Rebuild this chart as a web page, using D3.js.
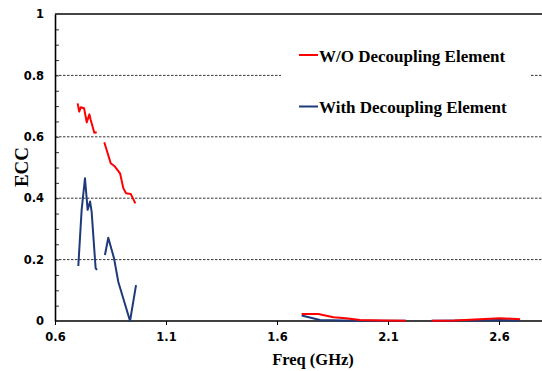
<!DOCTYPE html>
<html>
<head>
  <script src="https://cdn.jsdelivr.net/npm/d3@7"></script>
  <style>
    body { margin: 0; background: #fff; }
    .tick text { font-family: "DejaVu Sans", sans-serif; font-weight: bold; font-size: 11.5px; }
    .grid line { stroke: #000; stroke-width: 0.8; stroke-dasharray: 2.5,1.5; }
    .title { font-family: "Liberation Serif", serif; font-weight: bold; font-size: 16.5px; }
    .legend { font-family: "Liberation Serif", serif; font-weight: bold; font-size: 17px; }
  </style>
</head>
<body>
  <svg width="542" height="371"></svg>
  <script>
    // ECC vs frequency, two series, each with gaps (null = break)
    var freqWo = [0.702, 0.709, 0.716, 0.731, 0.743, 0.755, 0.761, 0.777, 0.788, null,
                  0.822, 0.851, 0.870, 0.893, 0.908, 0.920, 0.941, 0.962, null,
                  1.711, 1.786, 1.854, 1.910, 1.974, 2.080, 2.180, null,
                  2.297, 2.400, 2.514, 2.604, 2.695];
    var eccWo = [0.709, 0.682, 0.696, 0.693, 0.647, 0.673, 0.655, 0.613, 0.615, null,
                 0.582, 0.514, 0.503, 0.481, 0.432, 0.416, 0.414, 0.383, null,
                 0.023, 0.023, 0.012, 0.009, 0.003, 0.002, 0.001, null,
                 0.001, 0.002, 0.006, 0.009, 0.006];

    var freqWith = [0.705, 0.720, 0.735, 0.747, 0.758, 0.765, 0.783, 0.789, null,
                    0.825, 0.840, 0.866, 0.885, 0.938, 0.965, null,
                    1.711, 1.794, 1.900, 2.000, 2.180, null,
                    2.297, 2.450, 2.600, 2.695];
    var eccWith = [0.179, 0.362, 0.465, 0.362, 0.389, 0.356, 0.172, 0.166, null,
                   0.215, 0.271, 0.204, 0.128, 0.0, 0.117, null,
                   0.018, 0.003, 0.002, 0.001, 0.001, null,
                   0.001, 0.002, 0.003, 0.002];

    var xTicks = [0.6, 1.1, 1.6, 2.1, 2.6];
    var yTicks = [0, 0.2, 0.4, 0.6, 0.8, 1];
    var seriesNames = ["W/O Decoupling Element", "With Decoupling Element"];
    var seriesColors = ["#ff0000", "#1f3a7a"];

    var svg = d3.select("svg");
    var mLeft = 55, mTop = 14, mBottom = 321, mRight = 543.4;

    var x = d3.scaleLinear().domain([0.6, 2.8]).range([mLeft, mRight]);
    var y = d3.scaleLinear().domain([0, 1]).range([mBottom, mTop]);

    // dashed gridlines
    svg.append("g").attr("class", "grid")
      .selectAll("line").data([0.2, 0.4, 0.6, 0.8]).enter().append("line")
      .attr("x1", mLeft).attr("x2", 542)
      .attr("y1", function(d) { return y(d); })
      .attr("y2", function(d) { return y(d); });

    // top border
    svg.append("line")
      .attr("x1", mLeft).attr("x2", 542).attr("y1", y(1)).attr("y2", y(1))
      .attr("stroke", "#444").attr("stroke-width", 2);

    // minor ticks inside left axis
    svg.append("g")
      .attr("transform", "translate(" + mLeft + ",0)")
      .call(d3.axisRight(y).tickValues(d3.range(0.05, 1, 0.05)).tickSize(4).tickFormat(""))
      .call(function(g) { g.select(".domain").remove(); g.selectAll("line").attr("stroke", "#333"); });

    // y axis
    svg.append("g")
      .attr("transform", "translate(" + mLeft + ",0)")
      .call(d3.axisLeft(y).tickValues(yTicks).tickSize(0).tickPadding(11).tickFormat(d3.format("")))
      .call(function(g) { g.select(".domain").attr("stroke-width", 1.6); });

    // x axis
    svg.append("g")
      .attr("transform", "translate(0," + mBottom + ")")
      .call(d3.axisBottom(x).tickValues(xTicks).tickSizeInner(4).tickSizeOuter(0).tickPadding(8).tickFormat(d3.format(".1f")))
      .call(function(g) {
        g.select(".domain").attr("stroke-width", 1.6).attr("d", "M" + mLeft + ",0H542");
      });

    var line = d3.line()
      .defined(function(d) { return d[0] != null; })
      .x(function(d) { return x(d[0]); })
      .y(function(d) { return y(d[1]); });

    var seriesData = [
      d3.zip(freqWo, eccWo),
      d3.zip(freqWith, eccWith)
    ];

    // draw blue first so red sits on top
    [1, 0].forEach(function(i) {
      svg.append("path")
        .datum(seriesData[i])
        .attr("fill", "none")
        .attr("stroke", seriesColors[i])
        .attr("stroke-width", 2)
        .attr("stroke-linejoin", "round")
        .attr("d", line);
    });

    // legend box covering gridline
    svg.append("rect").attr("x", 281).attr("y", 38).attr("width", 249).attr("height", 84).attr("fill", "#fff");
    var legY = [55, 106.5];
    seriesNames.forEach(function(name, i) {
      svg.append("line")
        .attr("x1", 299).attr("x2", 318).attr("y1", legY[i]).attr("y2", legY[i])
        .attr("stroke", seriesColors[i]).attr("stroke-width", 2);
      svg.append("text").attr("class", "legend")
        .attr("x", 319).attr("y", legY[i] + 6.5)
        .text(name);
    });

    // axis titles
    svg.append("text").attr("class", "title")
      .attr("x", 313).attr("y", 365).attr("text-anchor", "middle")
      .text("Freq (GHz)");
    svg.append("text").attr("class", "title")
      .attr("transform", "translate(28,167) rotate(-90)")
      .attr("text-anchor", "middle")
      .style("font-size", "19px")
      .text("ECC");
  </script>
</body>
</html>
